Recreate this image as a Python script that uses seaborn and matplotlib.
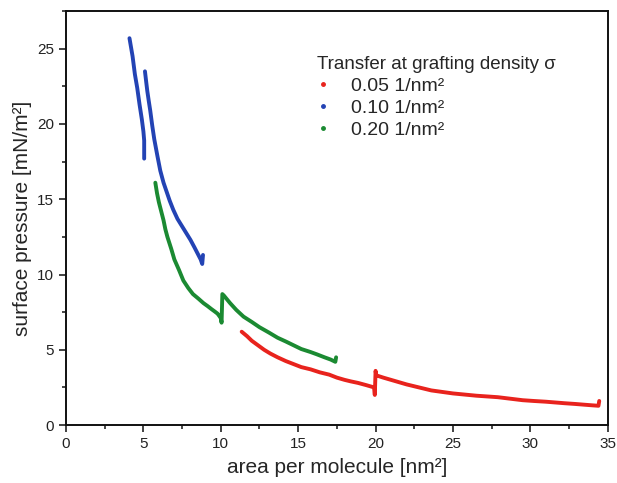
import matplotlib
matplotlib.use('Agg')
import matplotlib.ticker as ticker
import pandas as pd
import seaborn as sns
from matplotlib import pyplot as plt
from matplotlib.lines import Line2D

# isotherm segments: (area, pressure)
blue_a_x = [4.1, 4.2, 4.3, 4.45, 4.6, 4.75, 4.9, 5.0, 5.05, 5.05, 5.05]
blue_a_y = [25.7, 25.1, 24.5, 23.3, 22.4, 21.3, 20.3, 19.5, 18.9, 18.4, 17.7]
blue_b_x = [5.1, 5.18, 5.25, 5.35, 5.44, 5.57, 5.7, 5.9, 6.09, 6.3, 6.5, 6.7, 6.93,
            7.2, 7.5, 7.8, 8.04, 8.3, 8.5, 8.7, 8.8, 8.85]
blue_b_y = [23.5, 22.8, 22.2, 21.5, 20.9, 19.9, 19.0, 17.9, 16.9, 16.1, 15.5, 14.9, 14.3,
            13.7, 13.2, 12.7, 12.3, 11.8, 11.4, 11.0, 10.7, 11.3]
green_x = [5.77, 5.88, 6.0, 6.15, 6.3, 6.42, 6.55, 6.8, 7.0, 7.3, 7.58, 7.9, 8.2, 8.55,
           8.88, 9.15, 9.4, 9.6, 9.79, 9.9, 10.0, 10.05,
           10.1, 10.2, 10.6, 11.0, 11.47, 12.0, 12.5, 13.1, 13.67, 14.2, 14.7, 15.2, 15.8,
           16.2, 16.7, 17.1, 17.4, 17.45]
green_y = [16.1, 15.4, 14.8, 14.2, 13.6, 13.0, 12.5, 11.7, 11.0, 10.3, 9.6, 9.1, 8.7, 8.4,
           8.1, 7.9, 7.7, 7.55, 7.4, 7.25, 7.1, 6.8,
           8.7, 8.6, 8.1, 7.65, 7.2, 6.85, 6.5, 6.15, 5.8, 5.55, 5.3, 5.05, 4.85,
           4.7, 4.5, 4.35, 4.2, 4.5]
red_x = [11.35, 11.7, 12.0, 12.4, 12.8, 13.2, 13.67, 14.2, 14.7, 15.2, 15.8, 16.4, 17.0,
         17.5, 18.0, 18.4, 18.86, 19.4, 19.9, 19.95, 20.0,
         20.05, 20.5, 21.0, 21.5, 22.0, 22.8, 23.6, 24.3, 25.0, 25.8, 26.5, 27.2, 27.9,
         28.7, 29.5, 30.2, 31.0, 31.6, 32.2, 32.9, 33.5, 34.0, 34.4, 34.45]
red_y = [6.2, 5.9, 5.6, 5.3, 5.0, 4.75, 4.5, 4.25, 4.05, 3.85, 3.7, 3.5, 3.35,
         3.15, 3.0, 2.9, 2.8, 2.65, 2.5, 2.0, 3.6,
         3.3, 3.15, 3.0, 2.85, 2.7, 2.5, 2.3, 2.2, 2.1, 2.02, 1.95, 1.9, 1.85,
         1.75, 1.65, 1.6, 1.55, 1.5, 1.45, 1.4, 1.35, 1.31, 1.28, 1.6]

labels = ['0.05 1/nm²', '0.10 1/nm²', '0.20 1/nm²']
colors = ['#e8231d', '#2343b4', '#1b8a32']


def frame(xs, ys, label, seg):
    return pd.DataFrame({'x': xs, 'y': ys, 'series': label, 'seg': seg})


df = pd.concat([
    frame(red_x, red_y, labels[0], 0),
    frame(blue_a_x, blue_a_y, labels[1], 1),
    frame(blue_b_x, blue_b_y, labels[1], 2),
    frame(green_x, green_y, labels[2], 3),
], ignore_index=True)

sns.set_style('ticks')
plt.rcParams['font.family'] = ['Liberation Sans', 'DejaVu Sans']

fig = plt.figure(figsize=(6.17, 4.83), dpi=100)
ax = fig.add_axes([0.107, 0.12, 0.878, 0.857])

sns.lineplot(data=df, x='x', y='y', hue='series', units='seg', estimator=None, sort=False,
             palette=dict(zip(labels, colors)), hue_order=labels, lw=2.8, legend=False, ax=ax)

ax.set_xlim(0, 35)
ax.set_ylim(0, 27.5)
ax.xaxis.set_major_locator(ticker.MultipleLocator(5))
ax.xaxis.set_minor_locator(ticker.MultipleLocator(2.5))
ax.yaxis.set_major_locator(ticker.MultipleLocator(5))
ax.yaxis.set_minor_locator(ticker.MultipleLocator(2.5))
ax.tick_params(which='major', direction='out', length=5, width=1.2, labelsize=11, colors='#222222')
ax.tick_params(which='minor', direction='out', length=3, width=1.2)
for s in ax.spines.values():
    s.set_linewidth(1.4)
    s.set_color('#111111')

ax.set_xlabel('area per molecule [nm²]', fontsize=15, labelpad=5)
ax.set_ylabel('surface pressure [mN/m²]', fontsize=15, labelpad=4)

handles = [Line2D([], [], ls='none', marker='o', ms=2.5, color=c) for c in colors]
leg = ax.legend(handles, labels, title='Transfer at grafting density σ', loc='upper left',
                bbox_to_anchor=(0.431, 0.934), frameon=False, fontsize=14, title_fontsize=13.5,
                alignment='left', handlelength=0.6, handletextpad=1.15, labelspacing=0.22)

plt.savefig('out.png', dpi=100)
